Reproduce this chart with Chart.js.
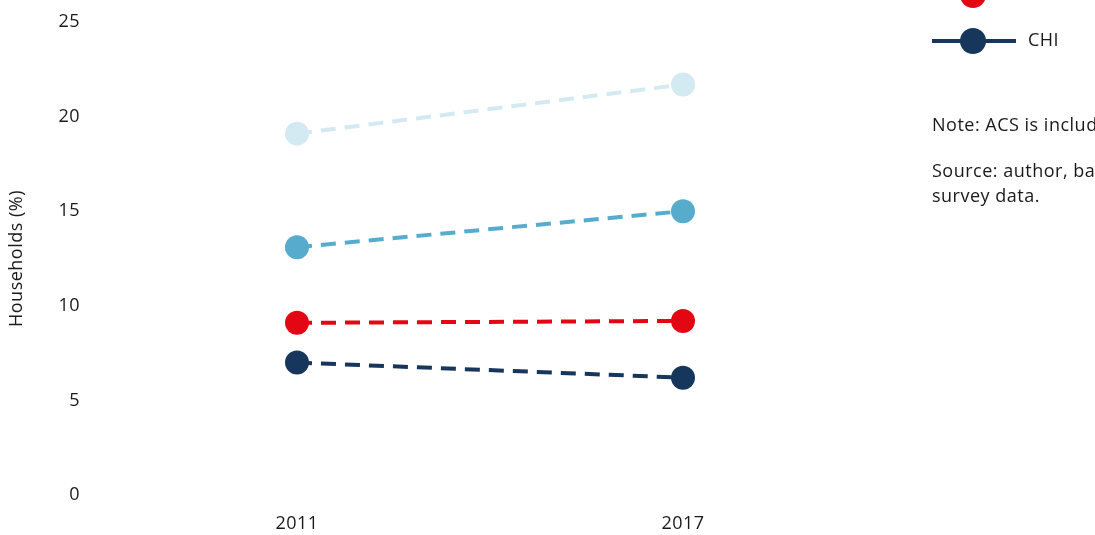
<!DOCTYPE html>
<html><head><meta charset="utf-8">
<script src="https://cdn.jsdelivr.net/npm/chart.js@4.4.1/dist/chart.umd.min.js"></script>
<style>
html,body{margin:0;padding:0;background:#fff;overflow:hidden;width:1095px;height:535px;}
#wrap{position:absolute;left:0;top:-110px;width:1300px;height:645px;}
</style></head>
<body>
<div id="wrap"><canvas id="c"></canvas></div>
<script>
const categories = ['2011', '2017'];
const seriesNames = ['Private', 'Public', 'Total', 'CHI'];
const privateValues = [19.1, 21.7];
const publicValues = [13.1, 15.0];
const totalValues = [9.1, 9.2];
const chiValues = [7.0, 6.2];
const seriesColors = ['#D4EAF3', '#57ACCE', '#E30613', '#17365C'];
const yTicks = [0, 5, 10, 15, 20, 25];
const noteLines = ['Note: ACS is included in the total.', '', 'Source: author, based on household', 'survey data.'];

const FONT = "'Open Sans', 'Noto Sans', sans-serif";
const FS = 18;
const LS = '0.5px';
const seriesValues = [privateValues, publicValues, totalValues, chiValues];

const datasets = seriesNames.map((n, i) => ({
  label: n,
  data: seriesValues[i],
  borderColor: seriesColors[i],
  backgroundColor: seriesColors[i],
  pointBackgroundColor: seriesColors[i],
  pointBorderColor: seriesColors[i],
  borderWidth: 4,
  borderDash: [15, 9],
  pointRadius: 12,
  pointHoverRadius: 12,
  pointBorderWidth: 0,
  fill: false,
  tension: 0
}));

const spacing = {
  id: 'spacing',
  beforeUpdate(chart) { chart.ctx.letterSpacing = LS; },
  beforeDraw(chart) { chart.ctx.letterSpacing = LS; }
};

const sideLegend = {
  id: 'sideLegend',
  afterDraw(chart) {
    const ctx = chart.ctx;
    const x0 = 932, gap = 46;
    const lastY = 151;
    const n = chart.data.datasets.length;
    ctx.save();
    ctx.letterSpacing = LS;
    chart.data.datasets.forEach((ds, i) => {
      const y = lastY - (n - 1 - i) * gap;
      ctx.strokeStyle = ds.borderColor;
      ctx.lineWidth = 4;
      ctx.setLineDash([]);
      ctx.beginPath(); ctx.moveTo(x0, y); ctx.lineTo(x0 + 84, y); ctx.stroke();
      ctx.fillStyle = ds.borderColor;
      ctx.beginPath(); ctx.arc(x0 + 41, y, 13, 0, Math.PI * 2); ctx.fill();
      ctx.fillStyle = '#1a1a1a';
      ctx.font = FS + 'px ' + FONT;
      ctx.textBaseline = 'middle';
      ctx.textAlign = 'left';
      ctx.fillText(ds.label, x0 + 96, y);
    });
    ctx.fillStyle = '#1a1a1a';
    ctx.font = FS + 'px ' + FONT;
    ctx.textBaseline = 'middle';
    let ny = 236;
    noteLines.forEach((t, i) => {
      if (t) ctx.fillText(t, x0, ny);
      ny += (i === 1) ? 21 : 25;
    });
    ctx.restore();
  }
};

new Chart(document.getElementById('c'), {
  type: 'line',
  data: { labels: categories, datasets },
  options: {
    responsive: true,
    maintainAspectRatio: false,
    animation: false,
    events: [],
    layout: { padding: { top: 132, right: 424, left: 0, bottom: 0 } },
    plugins: { legend: { display: false }, tooltip: { enabled: false } },
    scales: {
      x: {
        offset: true,
        grid: { display: false, drawTicks: false },
        border: { display: false },
        ticks: { color: '#1a1a1a', font: { family: FONT, size: FS }, padding: 18, maxRotation: 0 },
        afterFit(s) { s.height = 40; }
      },
      y: {
        min: 0, max: 25,
        afterBuildTicks(s) { s.ticks = yTicks.map(v => ({ value: v })); },
        grid: { display: false, drawTicks: false },
        border: { display: false },
        ticks: { color: '#1a1a1a', font: { family: FONT, size: FS }, padding: 24 },
        title: { display: true, text: 'Households (%)', color: '#1a1a1a', font: { family: FONT, size: FS }, padding: { top: 6, bottom: 0 } },
        afterFit(s) { s.width = 104; }
      }
    }
  },
  plugins: [spacing, sideLegend]
});
</script>
</body></html>
